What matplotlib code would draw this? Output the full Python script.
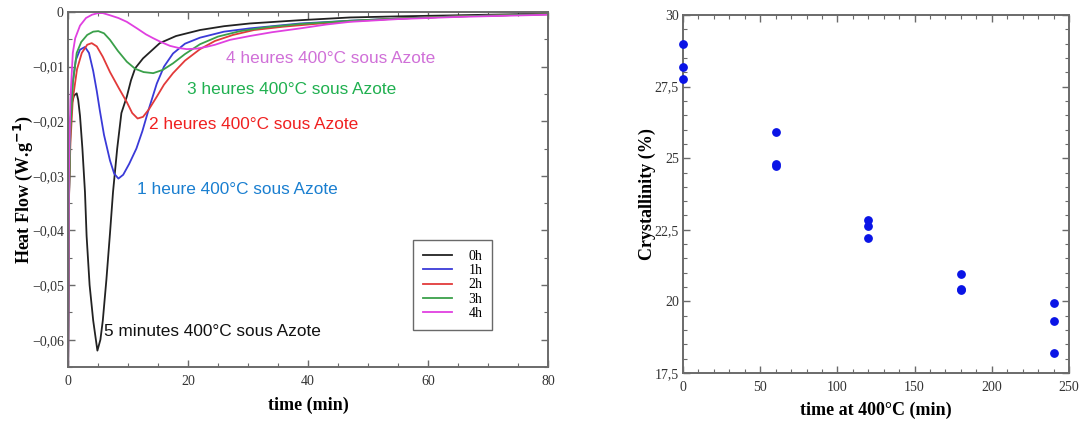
import matplotlib
matplotlib.use("Agg")
import matplotlib.pyplot as plt
from matplotlib.ticker import MultipleLocator

# ---------------- data: DSC curves (time in min, heat flow in W/g) -------------
t_0h = [0, 0.15, 0.33, 0.7, 1.0, 1.45, 1.7, 2.0, 2.4, 2.83, 3.1, 3.6, 4.2, 4.9,
        5.4, 5.8, 6.4, 7.0, 7.5, 8.2, 8.9, 9.8, 10.5, 11.2, 12.5, 13.7, 15.3,
        18, 22, 26, 30.3, 38.7, 47, 55, 65, 80]
hf_0h = [-0.07, -0.035, -0.0207, -0.0165, -0.0153, -0.0149, -0.0161, -0.019,
         -0.025, -0.033, -0.041, -0.050, -0.0565, -0.062, -0.060, -0.0565,
         -0.049, -0.0405, -0.033, -0.025, -0.0185, -0.0155, -0.0125, -0.0103,
         -0.0085, -0.0073, -0.0057, -0.0044, -0.0033, -0.0026, -0.0021,
         -0.0015, -0.0010, -0.0008, -0.0006, -0.0003]

t_1h = [0, 0.15, 0.4, 0.8, 1.3, 2.0, 2.83, 3.5, 4.2, 4.8, 5.3, 6.0, 7.0, 7.7,
        8.4, 9.2, 10.2, 11.4, 12.4, 13.4, 14.8, 16.0, 17.5, 19.5, 22, 26, 30.3,
        38.7, 47, 55, 65, 80]
hf_1h = [-0.07, -0.035, -0.020, -0.0128, -0.0088, -0.0069, -0.0064, -0.0075,
         -0.0108, -0.0145, -0.018, -0.0225, -0.0272, -0.0296, -0.0305, -0.0298,
         -0.0278, -0.0250, -0.0218, -0.018, -0.0131, -0.0100, -0.0076, -0.0058,
         -0.0047, -0.0036, -0.0030, -0.0021, -0.0016, -0.0012, -0.0008, -0.0004]

t_2h = [0, 0.15, 0.4, 0.8, 1.5, 2.3, 3.2, 3.95, 4.8, 5.8, 7.0, 8.5, 9.8, 10.7,
        11.6, 12.5, 13.5, 14.8, 16.0, 17.5, 19.5, 22, 24.5, 27.5, 31, 35.8, 41,
        47, 55, 65, 80]
hf_2h = [-0.07, -0.035, -0.024, -0.016, -0.0105, -0.0075, -0.0060, -0.0057,
         -0.0063, -0.0082, -0.0110, -0.0140, -0.0165, -0.0185, -0.0195,
         -0.0192, -0.0178, -0.0155, -0.0133, -0.0112, -0.0089, -0.0068,
         -0.0053, -0.0042, -0.0033, -0.0027, -0.0022, -0.0017, -0.0012,
         -0.0008, -0.0004]

t_3h = [0, 0.15, 0.4, 0.8, 1.45, 2.2, 3.2, 4.2, 5.05, 6.0, 7.0, 8.3, 9.8, 11.2,
        12.6, 14.2, 15.8, 17.5, 19.5, 22, 25, 28.7, 33, 38.7, 47, 55, 65, 80]
hf_3h = [-0.07, -0.035, -0.022, -0.013, -0.0075, -0.0055, -0.0042, -0.0036,
         -0.0035, -0.0039, -0.0051, -0.0071, -0.0091, -0.0104, -0.0110,
         -0.0112, -0.0106, -0.0094, -0.0077, -0.0059, -0.0045, -0.0035,
         -0.0028, -0.0022, -0.0016, -0.0012, -0.0008, -0.0004]

t_4h = [0, 0.15, 0.4, 0.8, 1.2, 2.0, 3.0, 4.0, 5.0, 5.8, 7.0, 8.4, 9.8, 11.5,
        13.0, 14.2, 15.5, 17.0, 18.5, 19.8, 21.5, 23.0, 24.5, 27.0, 30.3, 34,
        38.7, 43, 47, 55, 65, 80]
hf_4h = [-0.07, -0.030, -0.016, -0.0075, -0.0048, -0.0025, -0.0011, -0.0005,
         -0.0002, -0.0002, -0.0006, -0.0011, -0.0018, -0.0030, -0.0041,
         -0.0048, -0.0055, -0.0062, -0.0066, -0.0068, -0.0067, -0.0064,
         -0.0060, -0.0051, -0.0044, -0.0037, -0.0030, -0.0023, -0.0018,
         -0.0013, -0.0009, -0.0005]

series_labels = ["0h", "1h", "2h", "3h", "4h"]
series_colors = ["#222222", "#3a3ad8", "#e23a3a", "#3aa04a", "#e040e0"]

left_yticks = [0, -0.01, -0.02, -0.03, -0.04, -0.05, -0.06]
left_yticklabels = ["0", "\u22120,01", "\u22120,02", "\u22120,03",
                    "\u22120,04", "\u22120,05", "\u22120,06"]
left_xticks = [0, 20, 40, 60, 80]

annotations = ["4 heures 400°C sous Azote", "3 heures 400°C sous Azote",
               "2 heures 400°C sous Azote", "1 heure 400°C sous Azote",
               "5 minutes 400°C sous Azote"]
annot_x = [26.3, 19.8, 13.5, 11.5, 6.0]
annot_y = [-0.0085, -0.0142, -0.0206, -0.0325, -0.0585]
annot_colors = ["#d070d8", "#20b050", "#f02020", "#1a7fd0", "#111111"]

# ---------------- data: crystallinity ----------------
cryst_time = [0, 0, 0, 60, 60, 60, 120, 120, 120, 180, 180, 180, 240, 240, 240]
cryst_val = [29.0, 28.17, 27.77, 25.9, 24.8, 24.72, 22.84, 22.64, 22.2,
             20.97, 20.43, 20.40, 19.96, 19.32, 18.21]
right_yticks = [17.5, 20, 22.5, 25, 27.5, 30]
right_yticklabels = ["17,5", "20", "22,5", "25", "27,5", "30"]
right_xticks = [0, 50, 100, 150, 200, 250]

# ---------------- figure ----------------
serif = ["Liberation Serif", "DejaVu Serif"]
sans = ["Liberation Sans", "DejaVu Sans"]

fig = plt.figure(figsize=(10.82, 4.21), dpi=100)
ax1 = fig.add_axes([68/1082, 1-367/421, 480/1082, 355/421])
ax2 = fig.add_axes([683/1082, 1-373/421, 386/1082, 358/421])

spine_col = "#6a6a6a"
tick_col = "#333333"

def style_axes(ax, pad):
    for s in ax.spines.values():
        s.set_color(spine_col)
        s.set_linewidth(1.4)
    ax.tick_params(which="both", direction="in", top=True, right=True,
                   colors=spine_col, labelcolor=tick_col)
    ax.tick_params(which="major", length=5, width=1.0, pad=6)
    ax.tick_params(axis="y", which="major", pad=pad)
    ax.tick_params(which="minor", length=3, width=0.8)
    for lab in ax.get_xticklabels() + ax.get_yticklabels():
        lab.set_fontfamily(serif)
        lab.set_fontsize(10)

ts = [t_0h, t_1h, t_2h, t_3h, t_4h]
hfs = [hf_0h, hf_1h, hf_2h, hf_3h, hf_4h]
for t, hf, lab, col in zip(ts, hfs, series_labels, series_colors):
    ax1.plot(t, hf, color=col, lw=1.3, label=lab)

ax1.set_xlim(0, 80)
ax1.set_ylim(-0.065, 0)
ax1.set_xticks(left_xticks)
ax1.set_xticklabels([str(v) for v in left_xticks])
ax1.set_yticks(left_yticks)
ax1.set_yticklabels(left_yticklabels)
ax1.xaxis.set_minor_locator(MultipleLocator(5))
ax1.yaxis.set_minor_locator(MultipleLocator(0.005))
style_axes(ax1, 3)
ax1.set_xlabel("time (min)", fontfamily=serif, fontweight="bold",
               fontsize=13, labelpad=6)
ax1.set_ylabel("Heat Flow (W.g$^{\\mathbf{-1}}$)", fontfamily=serif,
               fontweight="bold", fontsize=13, labelpad=-2)

for txt, x, y, c in zip(annotations, annot_x, annot_y, annot_colors):
    ax1.text(x, y, txt, color=c, fontfamily=sans, fontsize=12.4,
             ha="left", va="center")

leg = ax1.legend(loc="upper left", bbox_to_anchor=(345/480, 1-228/355),
                 prop={"family": serif, "size": 10}, frameon=True,
                 fancybox=False, edgecolor="#444444", handlelength=2.1,
                 handletextpad=1.2, labelspacing=0.1, borderpad=0.7,
                 borderaxespad=0)
leg.get_frame().set_linewidth(1.0)

ax2.scatter(cryst_time, cryst_val, s=28, color="#0a14e6", zorder=3,
            clip_on=False)
ax2.set_xlim(0, 250)
ax2.set_ylim(17.5, 30)
ax2.set_xticks(right_xticks)
ax2.set_xticklabels([str(v) for v in right_xticks])
ax2.set_yticks(right_yticks)
ax2.set_yticklabels(right_yticklabels)
ax2.xaxis.set_minor_locator(MultipleLocator(10))
ax2.yaxis.set_minor_locator(MultipleLocator(0.5))
style_axes(ax2, 3)
ax2.set_xlabel("time at 400°C (min)", fontfamily=serif, fontweight="bold",
               fontsize=13, labelpad=5)
ax2.set_ylabel("Crystallinity (%)", fontfamily=serif, fontweight="bold",
               fontsize=13, labelpad=-1)

fig.savefig("out.png", dpi=100)
